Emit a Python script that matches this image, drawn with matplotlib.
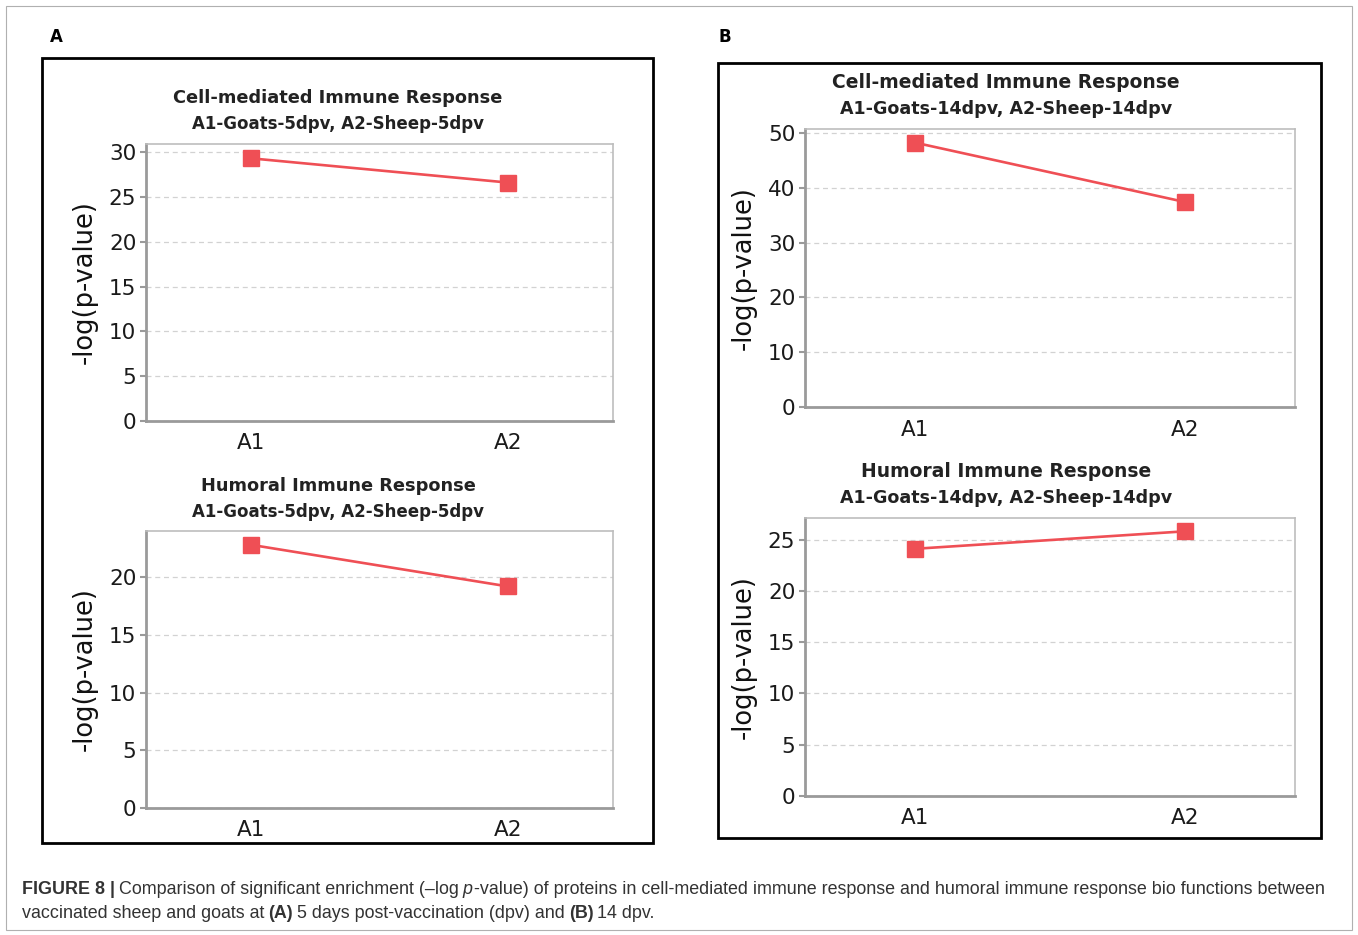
import matplotlib
matplotlib.use("Agg")
import matplotlib.pyplot as plt
from matplotlib.patches import Rectangle

W, H = 1358, 935

cats = ["A1", "A2"]
cell_5dpv = [29.3, 26.6]
humoral_5dpv = [22.8, 19.2]
cell_14dpv = [48.2, 37.4]
humoral_14dpv = [24.1, 25.8]

titles = ["Cell-mediated Immune Response", "Humoral Immune Response"]
sub_5 = "A1-Goats-5dpv, A2-Sheep-5dpv"
sub_14 = "A1-Goats-14dpv, A2-Sheep-14dpv"

RED = "#ef4f55"

fig = plt.figure(figsize=(W / 100, H / 100), dpi=100)


def px_axes(x0, y0, x1, y1):
    return fig.add_axes([x0 / W, 1 - y1 / H, (x1 - x0) / W, (y1 - y0) / H])


def panel(box, vals, ymax, step, title, sub, title_x, title_y, tsize, ssize):
    ax = px_axes(*box)
    x = range(len(cats))
    ax.plot(x, vals, color=RED, lw=1.9, marker="s", ms=11, mfc=RED, mec=RED, zorder=3)
    ax.set_xlim(-0.41, 1.41)
    ax.set_ylim(0, ymax)
    ax.set_yticks(range(0, int(ymax) + 1, step))
    ax.set_xticks(list(x))
    ax.set_xticklabels(cats)
    ax.grid(axis="y", ls=(0, (4, 3)), color="#d2d2d2", lw=0.9)
    ax.set_axisbelow(True)
    for s in ["left", "bottom"]:
        ax.spines[s].set_color("#9a9a9a")
        ax.spines[s].set_linewidth(2)
    for s in ["top", "right"]:
        ax.spines[s].set_color("#bdbdbd")
        ax.spines[s].set_linewidth(1.2)
    ax.tick_params(axis="y", direction="out", length=4, width=1.5, color="#9a9a9a",
                   labelsize=15.5, labelcolor="#1a1a1a", pad=3)
    ax.tick_params(axis="x", length=0, labelsize=15.5, labelcolor="#1a1a1a", pad=9)
    ax.set_ylabel("-log(p-value)", fontsize=18.5, color="#111111", labelpad=8)
    fig.text(title_x / W, 1 - title_y / H, title, ha="center", va="center",
             fontsize=tsize, fontweight="bold", color="#222222")
    fig.text(title_x / W, 1 - (title_y + 26) / H, sub, ha="center", va="center",
             fontsize=ssize, fontweight="bold", color="#222222")
    return ax


panel((146, 144, 613, 421), cell_5dpv, 30.9, 5, titles[0], sub_5, 338, 98, 12.8, 12)
panel((146, 531, 613, 808), humoral_5dpv, 24.0, 5, titles[1], sub_5, 338, 486, 12.8, 12)
panel((805, 129, 1295, 407), cell_14dpv, 50.7, 10, titles[0], sub_14, 1006, 83, 13.5, 12.6)
panel((805, 518, 1295, 796), humoral_14dpv, 27.1, 5, titles[1], sub_14, 1006, 472, 13.5, 12.6)

# panel frames and outer frame
for x0, y0, x1, y1, c, lw in [(42, 58, 653, 843, "black", 2),
                              (718, 63, 1321, 838, "black", 2),
                              (6, 6, 1352, 930, "#b0b0b0", 0.8)]:
    fig.add_artist(Rectangle((x0 / W, 1 - y1 / H), (x1 - x0) / W, (y1 - y0) / H,
                             transform=fig.transFigure, fill=False, ec=c, lw=lw))

fig.text(50 / W, 1 - 37 / H, "A", fontsize=12, fontweight="bold", va="center")
fig.text(719 / W, 1 - 37 / H, "B", fontsize=12, fontweight="bold", va="center")

# caption with mixed styles, pieces drawn one after another
renderer = fig.canvas.get_renderer()
CAP = 12.9


def write_line(pieces, x, y):
    for txt, weight, style, gap in pieces:
        x += gap
        t = fig.text(x / W, 1 - y / H, txt, family="Liberation Sans", fontsize=CAP,
                     fontweight=weight, style=style, color="#333333", va="center")
        x = t.get_window_extent(renderer).x1


write_line([("FIGURE 8 |", "bold", "normal", 0),
            ("Comparison of significant enrichment (\u2013log", "normal", "normal", 4),
            ("p", "normal", "italic", 4),
            ("-value) of proteins in cell-mediated immune response and humoral immune response bio functions between",
             "normal", "normal", 1)],
           22, 890)
write_line([("vaccinated sheep and goats at", "normal", "normal", 0),
            ("(A)", "bold", "normal", 4),
            ("5 days post-vaccination (dpv) and", "normal", "normal", 4),
            ("(B)", "bold", "normal", 4),
            ("14 dpv.", "normal", "normal", 4)],
           22, 914)

fig.savefig("out.png", dpi=100)
